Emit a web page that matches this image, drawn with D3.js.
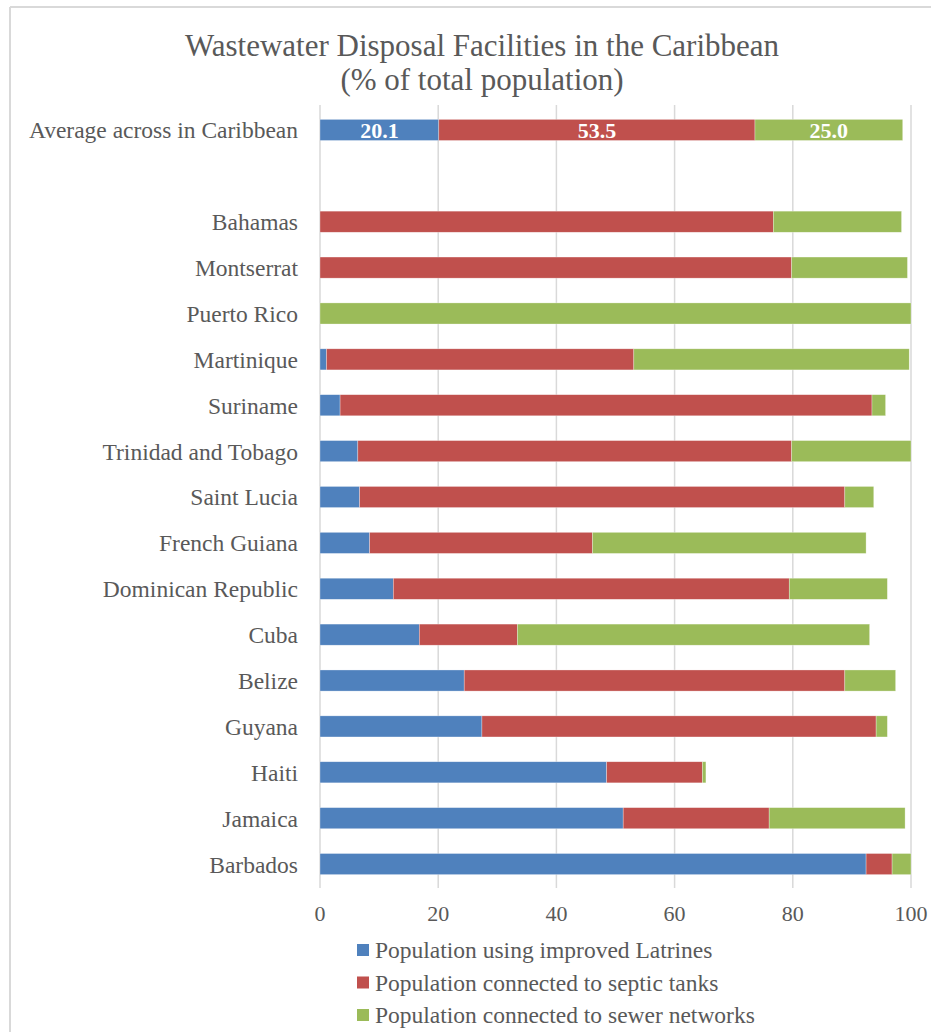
<!DOCTYPE html>
<html lang="en">
<head>
<meta charset="UTF-8">
<title>Wastewater Disposal Facilities in the Caribbean</title>
<script src="https://d3js.org/d3.v7.min.js"></script>
<style>
    html, body { margin: 0; padding: 0; background: #fff; overflow: hidden; }
    .grid line { stroke: #d9d9d9; stroke-width: 1.5px; }
    .cat-label, .tick-label, .legend text { fill: #595959; font-size: 23.5px; }
    .tick-label { font-size: 22px; }
    .title { fill: #595959; font-size: 31px; }
</style>
</head>
<body>
<svg id="chart"></svg>
<script>
    // --- data ---
    const countries = ["Average across in Caribbean", "", "Bahamas", "Montserrat", "Puerto Rico", "Martinique",
        "Suriname", "Trinidad and Tobago", "Saint Lucia", "French Guiana", "Dominican Republic",
        "Cuba", "Belize", "Guyana", "Haiti", "Jamaica", "Barbados"];
    const latrines = [20.1, null, 0, 0, 0, 1.1, 3.4, 6.4, 6.7, 8.4, 12.4, 16.8, 24.4, 27.4, 48.5, 51.3, 92.4];
    const septic   = [53.5, null, 76.7, 79.8, 0, 52.0, 90.0, 73.4, 82.1, 37.7, 67.0, 16.6, 64.4, 66.7, 16.2, 24.7, 4.4];
    const sewer    = [25.0, null, 21.7, 19.6, 100, 46.6, 2.3, 20.2, 4.9, 46.3, 16.6, 59.6, 8.6, 1.9, 0.6, 23.0, 3.2];
    const seriesNames = ["Population using improved Latrines", "Population connected to septic tanks", "Population connected to sewer networks"];
    const seriesColors = ["#4F81BD", "#C0504D", "#9BBB59"];
    const xTicks = [0, 20, 40, 60, 80, 100];

    const serif = "'Times New Roman', 'Liberation Serif', Tinos, 'DejaVu Serif', serif";
    const width = 931, height = 1032;
    const svg = d3.select("#chart").attr("width", width).attr("height", height)
        .attr("font-family", serif);

    // outer frame (only top and left edges are visible in the crop)
    svg.append("line").attr("x1", 10).attr("x2", width).attr("y1", 7).attr("y2", 7)
        .attr("stroke", "#d9d9d9").attr("stroke-width", 2);
    svg.append("line").attr("x1", 10).attr("x2", 10).attr("y1", 7).attr("y2", height)
        .attr("stroke", "#d9d9d9").attr("stroke-width", 2);

    // title
    svg.append("text").attr("class", "title").attr("x", 482).attr("y", 56)
        .attr("text-anchor", "middle").text("Wastewater Disposal Facilities in the Caribbean");
    svg.append("text").attr("class", "title").attr("x", 482).attr("y", 90)
        .attr("text-anchor", "middle").text("(% of total population)");

    const x = d3.scaleLinear().domain([0, 100]).range([320, 911]);
    const y = d3.scaleBand().domain(d3.range(countries.length)).range([107, 887]).paddingInner(0.54).paddingOuter(0.27);

    // gridlines
    svg.append("g").attr("class", "grid").selectAll("line").data(xTicks).join("line")
        .attr("x1", d => x(d)).attr("x2", d => x(d)).attr("y1", 105).attr("y2", 888);

    // stacked bars
    const rows = countries.map((c, i) => ({ i, vals: [latrines[i], septic[i], sewer[i]] }))
        .filter(r => r.vals[0] !== null);
    const barG = svg.append("g");
    rows.forEach(r => {
        let acc = 0;
        r.vals.forEach((v, s) => {
            if (v > 0) {
                barG.append("rect")
                    .attr("x", x(acc)).attr("y", y(r.i))
                    .attr("width", x(acc + v) - x(acc)).attr("height", y.bandwidth())
                    .attr("fill", seriesColors[s])
                    .attr("stroke", "#fff").attr("stroke-opacity", 0.5).attr("stroke-width", 0.6);
                if (r.i === 0) {
                    barG.append("text")
                        .attr("x", x(acc + v / 2)).attr("y", y(r.i) + y.bandwidth() / 2)
                        .attr("dy", "0.36em").attr("text-anchor", "middle")
                        .attr("fill", "#fff").attr("font-size", 22).attr("font-weight", "bold")
                        .text(d3.format(".1f")(v));
                }
            }
            acc += v;
        });
    });

    // category labels
    svg.append("g").selectAll("text").data(countries).join("text")
        .attr("class", "cat-label")
        .attr("x", 298).attr("y", (d, i) => y(i) + y.bandwidth() / 2)
        .attr("dy", "0.36em").attr("text-anchor", "end").text(d => d);

    // x tick labels
    svg.append("g").selectAll("text").data(xTicks).join("text")
        .attr("class", "tick-label")
        .attr("x", d => x(d)).attr("y", 921).attr("text-anchor", "middle").text(d => d);

    // legend
    const legend = svg.append("g").attr("class", "legend");
    seriesNames.forEach((name, i) => {
        const ly = 950 + i * 32.5;
        legend.append("rect").attr("x", 357).attr("y", ly - 6).attr("width", 12).attr("height", 12)
            .attr("fill", seriesColors[i]);
        legend.append("text").attr("x", 375).attr("y", ly).attr("dy", "0.36em").text(name);
    });
</script>
</body>
</html>
